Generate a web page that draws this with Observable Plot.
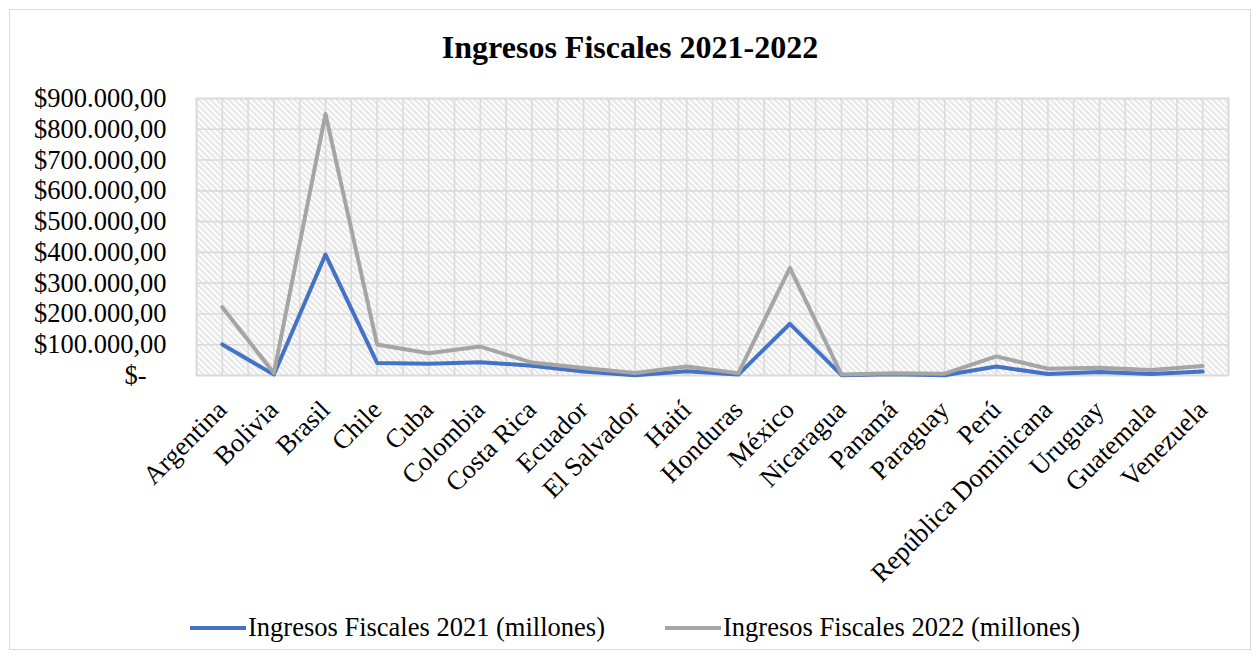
<!DOCTYPE html>
<html>
<head>
<meta charset="utf-8">
<script src="https://cdn.jsdelivr.net/npm/d3@7"></script>
<script src="https://cdn.jsdelivr.net/npm/@observablehq/plot@0.6"></script>
<style>
  body { margin: 0; background: #fff; }
  #wrap { position: relative; width: 1260px; height: 659px; overflow: hidden; font-family: "Liberation Serif", "Times New Roman", serif; }
  #border { position: absolute; left: 9px; top: 9px; width: 1240px; height: 639px; border: 1px solid #d9d9d9; pointer-events: none; }
  #title { height: 75px; box-sizing: border-box; padding-top: 27px; line-height: 40px; text-align: center; font-size: 32px; font-weight: bold; color: #000; }
  #legend { position: relative; height: 54px; font-size: 26.5px; color: #000; }
  .item { position: absolute; top: 6px; height: 32px; line-height: 32px; white-space: nowrap; }
  .sw { display: inline-block; width: 56px; height: 4px; vertical-align: middle; margin-right: 2px; position: relative; top: -2px; }
</style>
</head>
<body>
<div id="wrap">
  <div id="border"></div>
  <div id="title">Ingresos Fiscales 2021-2022</div>
  <div id="chart"></div>
  <div id="legend"></div>
</div>
<script>
const categories = ["Argentina","Bolivia","Brasil","Chile","Cuba","Colombia","Costa Rica","Ecuador","El Salvador","Haití","Honduras","México","Nicaragua","Panamá","Paraguay","Perú","República Dominicana","Uruguay","Guatemala","Venezuela"];
const ingresos2021 = [101000, 3000, 393000, 41000, 38000, 43000, 32000, 13000, 1000, 14000, 3000, 168000, 1000, 4000, 1000, 29000, 5000, 11000, 5000, 13000];
const ingresos2022 = [222000, 8000, 850000, 101000, 72000, 94000, 42000, 24000, 8000, 29000, 7000, 350000, 3000, 7000, 6000, 62000, 22000, 25000, 18000, 31000];
const yTicks = [0, 100000, 200000, 300000, 400000, 500000, 600000, 700000, 800000, 900000];
const seriesNames = ["Ingresos Fiscales 2021 (millones)", "Ingresos Fiscales 2022 (millones)"];
const seriesColors = ["#4472C4", "#A5A5A5"];

const data2021 = categories.map((c, i) => ({i, pais: c, valor: ingresos2021[i]}));
const data2022 = categories.map((c, i) => ({i, pais: c, valor: ingresos2022[i]}));

const loc = d3.formatLocale({decimal: ",", thousands: ".", grouping: [3], currency: ["$", ""]});
const fmt = loc.format("$,.2f");
const yFormat = d => d === 0 ? "$-\u00a0\u00a0\u00a0" : fmt(d);

const idx = categories.map((c, i) => i);
const halfSteps = d3.range(-0.5, categories.length - 0.5 + 0.01, 0.5);

const chart = Plot.plot({
  width: 1260,
  height: 530,
  marginTop: 23,
  marginBottom: 230,
  marginLeft: 196,
  marginRight: 32,
  style: {fontFamily: "'Liberation Serif', 'Times New Roman', serif", fontSize: "26.5px", color: "#000", background: "transparent"},
  x: {type: "linear", domain: [-0.5, categories.length - 0.5], ticks: idx, tickFormat: i => categories[i], tickRotate: -45, tickSize: 0, tickPadding: 30, label: null},
  y: {domain: [0, 900000], ticks: yTicks, tickFormat: yFormat, tickSize: 0, tickPadding: 30, label: null},
  marks: [
    Plot.frame({fill: "url(#hatch)", stroke: null}),
    Plot.ruleY(yTicks, {stroke: "#dadada", strokeWidth: 1.6}),
    Plot.ruleX(halfSteps, {stroke: "#dadada", strokeWidth: 1.6}),
    Plot.frame({stroke: "#d9d9d9", strokeWidth: 1.6}),
    Plot.line(data2021, {x: "i", y: "valor", stroke: seriesColors[0], strokeWidth: 4, strokeLinejoin: "round", strokeLinecap: "round"}),
    Plot.line(data2022, {x: "i", y: "valor", stroke: seriesColors[1], strokeWidth: 4, strokeLinejoin: "round", strokeLinecap: "round"})
  ]
});

const svg = d3.select(chart);
const defs = svg.insert("defs", ":first-child");
const pat = defs.append("pattern").attr("id", "hatch").attr("patternUnits", "userSpaceOnUse").attr("width", 6).attr("height", 6);
pat.append("rect").attr("width", 6).attr("height", 6).attr("fill", "#ffffff");
pat.append("path").attr("d", "M-1,-1 L7,7 M-1,5 L1,7 M5,-1 L7,1").attr("stroke", "#e1e1e1").attr("stroke-width", 1.8);

document.getElementById("chart").appendChild(chart);

const legend = d3.select("#legend");
const lefts = [190, 665];
seriesNames.forEach((n, k) => {
  const it = legend.append("div").attr("class", "item").style("left", lefts[k] + "px");
  it.append("span").attr("class", "sw").style("background", seriesColors[k]);
  it.append("span").text(n);
});
</script>
</body>
</html>
